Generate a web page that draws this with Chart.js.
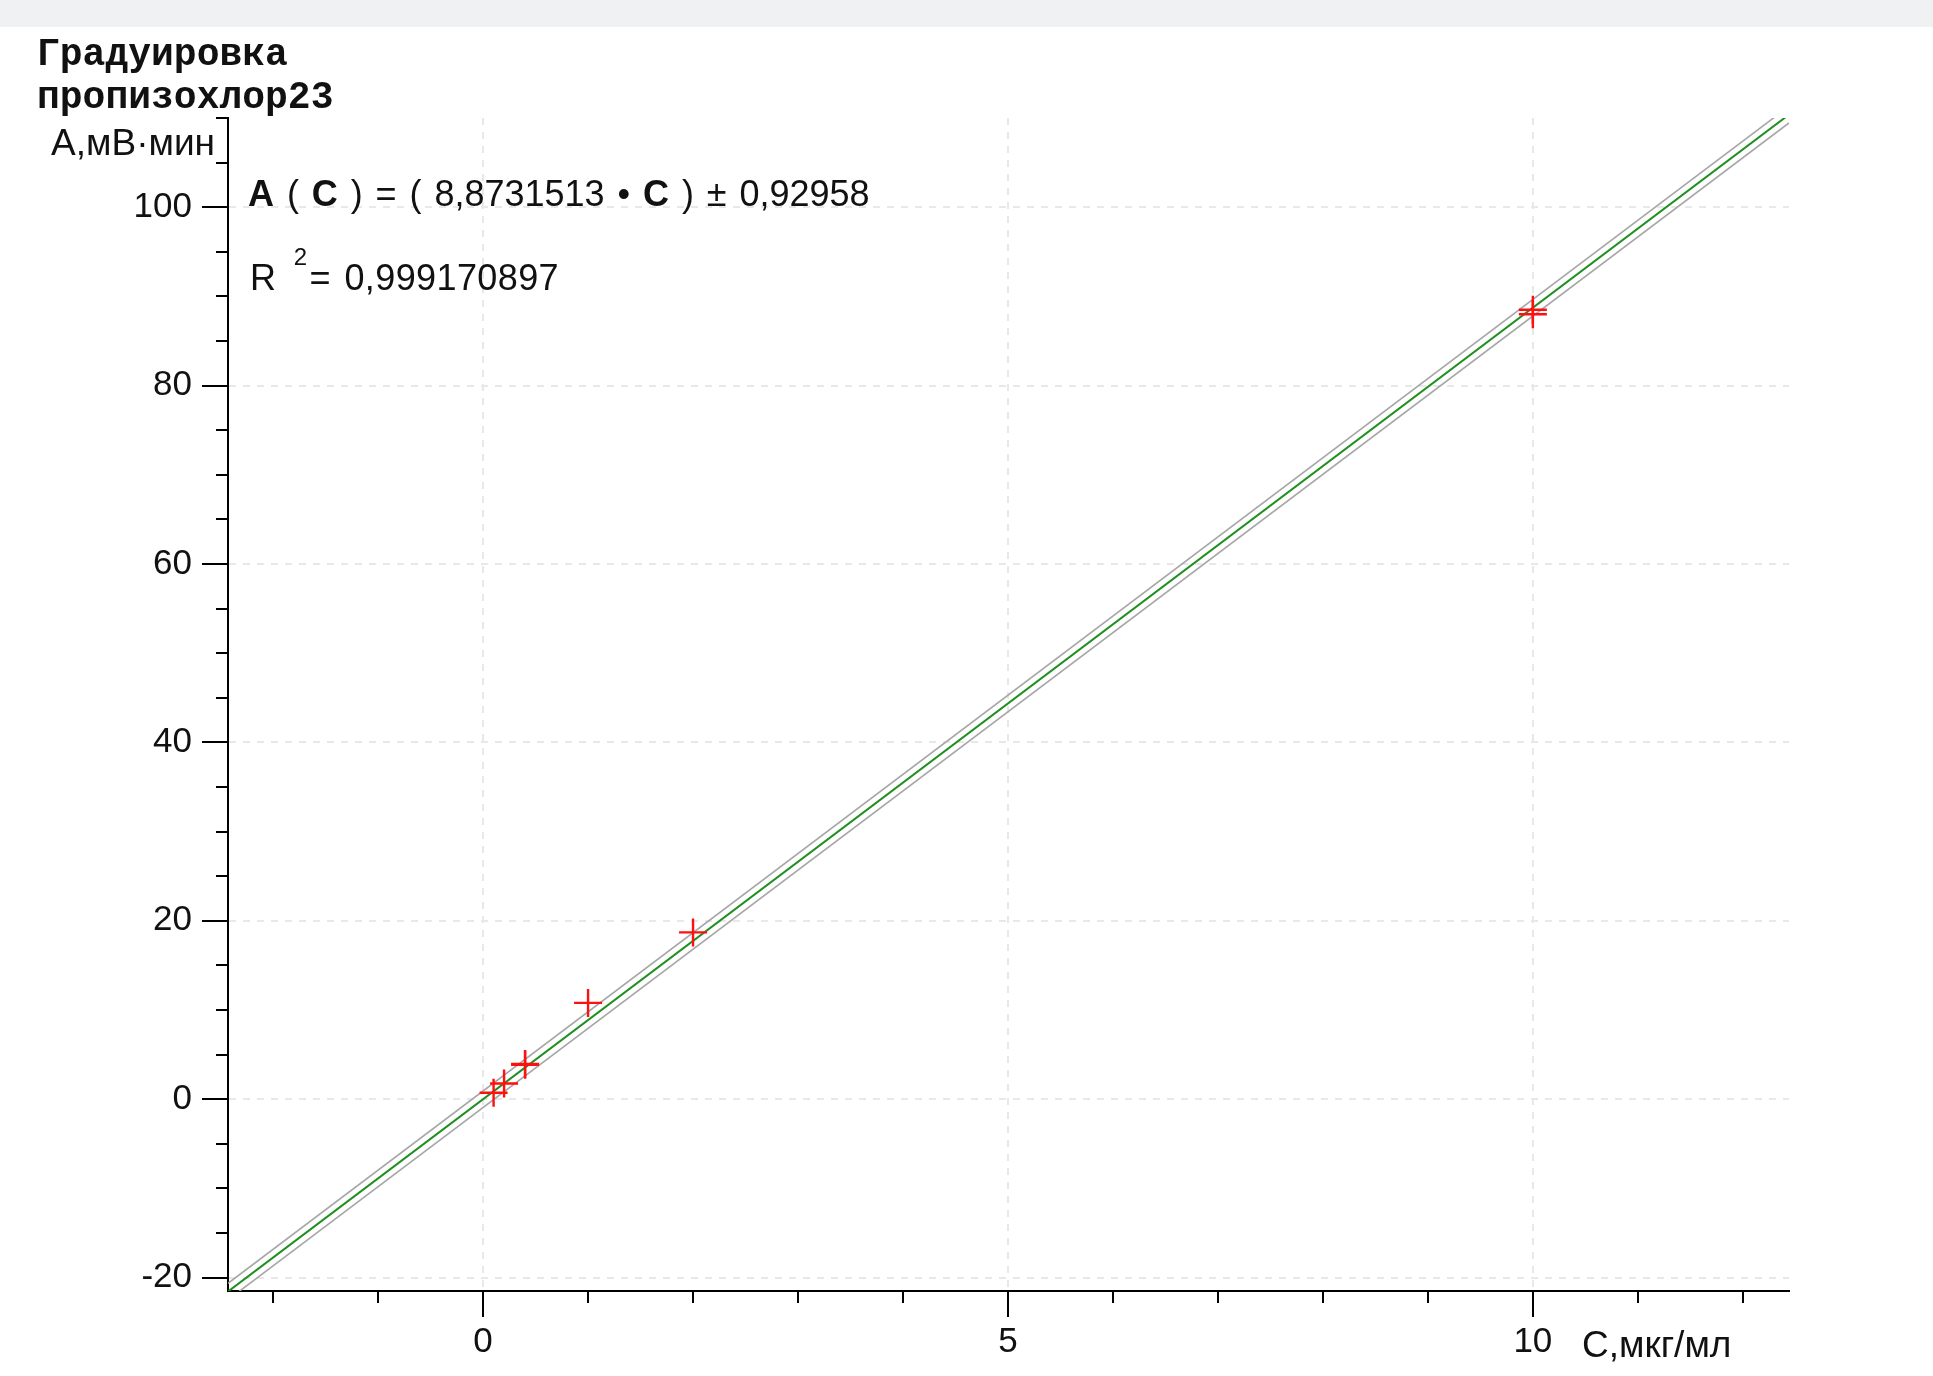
<!DOCTYPE html>
<html>
<head>
<meta charset="utf-8">
<script src="https://cdn.jsdelivr.net/npm/chart.js@4.4.1/dist/chart.umd.min.js"></script>
<style>
  html, body { margin: 0; padding: 0; background: #fff; overflow: hidden; }
  #wrap { position: relative; width: 1933px; height: 1376px; }
  #band { position: absolute; left: 0; top: 0; width: 1933px; height: 27px; background: #f0f1f3; }
  canvas { position: absolute; left: 0; top: 0; }
  .lbl { position: absolute; white-space: pre; font-family: 'Liberation Sans', Arial, sans-serif; color: #111; line-height: normal; }
  .ttl { position: absolute; white-space: pre; font-family: 'Liberation Mono', 'Courier New', monospace; font-weight: bold; font-size: 38px; color: #111; line-height: normal; }
  .eq { word-spacing: 2.9px; }
  .r2 { word-spacing: 3px; letter-spacing: 0.4px; }
  b { font-weight: bold; }
  .sup { position: relative; top: -25px; font-size: 24px; margin-left: 4px; margin-right: 2px; }
</style>
</head>
<body>
<div id="wrap">
  <div id="band"></div>
  <canvas id="chart" width="1933" height="1376"></canvas>
  <div class="ttl" style="left:37px; top:33px;">Градуировка</div>
  <div class="ttl" style="left:37px; top:76px;">пропизохлор23</div>
  <div class="lbl" style="right:1718px; top:122px; font-size:37px;">А,мВ·мин</div>
  <div class="lbl" style="left:1582px; top:1324px; font-size:37px;">С,мкг/мл</div>
  <div class="lbl eq" style="left:248px; top:173px; font-size:36px;"><b>А</b> ( <b>С</b> ) = ( 8,8731513 • <b>С</b> ) ± 0,92958</div>
  <div class="lbl r2" style="left:250px; top:257px; font-size:36px;">R <span class="sup">2</span>= 0,999170897</div>
</div>
<script>
// calibration points (concentration, peak area)
const concentrations = [0.1, 0.2, 0.4, 0.4, 1, 2, 10, 10];
const areas = [0.72, 1.76, 3.85, 3.95, 10.8, 18.7, 88.5, 88.0];

// fit from the equation in the picture: A(C) = 8,8731513*C ± 0,92958
const fitSlope = 8.8731513;
const fitBand = 0.92958;

const xMajorTicks = [0, 5, 10];
const xMinorTicks = [-2, -1, 1, 2, 3, 4, 6, 7, 8, 9, 11, 12];
const yMajorTicks = [-20, 0, 20, 40, 60, 80, 100];
const yMinorTicks = [-15, -10, -5, 5, 10, 15, 25, 30, 35, 45, 50, 55, 65, 70, 75, 85, 90, 95, 105, 110];

const xMin = -2.43, xMax = 12.44;
const yMin = -21.5, yMax = 110;

const FONT = 'Liberation Sans';

function fitLine(offset) {
  return [xMin, xMax].map(x => ({ x, y: fitSlope * x + offset }));
}

const minorTicks = {
  id: 'minorTicks',
  afterDraw(chart) {
    const { ctx, chartArea, scales: { x, y } } = chart;
    ctx.save();
    ctx.strokeStyle = '#000';
    ctx.lineWidth = 2;
    ctx.beginPath();
    xMinorTicks.forEach(v => {
      const px = Math.round(x.getPixelForValue(v));
      ctx.moveTo(px, chartArea.bottom);
      ctx.lineTo(px, chartArea.bottom + 12);
    });
    yMinorTicks.forEach(v => {
      const py = Math.round(y.getPixelForValue(v));
      ctx.moveTo(chartArea.left - 12, py);
      ctx.lineTo(chartArea.left, py);
    });
    ctx.stroke();
    ctx.restore();
  }
};

function axisOpts(major, extra) {
  return Object.assign({
    type: 'linear',
    afterBuildTicks: (s) => { s.ticks = major.map(v => ({ value: v })); },
    ticks: { color: '#111', font: { family: FONT, size: 35 }, autoSkip: false, maxRotation: 0 },
    grid: { color: '#e8e8e8', lineWidth: 2, tickLength: 26, tickWidth: 2, tickColor: '#000' },
    border: { display: true, color: '#000', width: 2, dash: [7, 7] },
  }, extra);
}

const xScale = axisOpts(xMajorTicks, { min: xMin, max: xMax, afterFit: (s) => { s.height = 85; } });
xScale.ticks.padding = 4;
const yScale = axisOpts(yMajorTicks, { min: yMin, max: yMax, afterFit: (s) => { s.width = 228; } });
yScale.ticks.padding = 10;

new Chart(document.getElementById('chart').getContext('2d'), {
  type: 'scatter',
  data: {
    datasets: [
      {
        data: concentrations.map((c, i) => ({ x: c, y: areas[i] })),
        pointStyle: 'cross', pointRadius: 14, pointBorderWidth: 2.4,
        pointBorderColor: '#ff1010', pointBackgroundColor: '#ff1010',
        showLine: false, order: 0,
      },
      { data: fitLine(0), showLine: true, borderColor: '#1f8f1f', borderWidth: 2, pointRadius: 0, order: 1 },
      { data: fitLine(fitBand), showLine: true, borderColor: '#a6a6a6', borderWidth: 1.6, pointRadius: 0, order: 2 },
      { data: fitLine(-fitBand), showLine: true, borderColor: '#a6a6a6', borderWidth: 1.6, pointRadius: 0, order: 2 },
    ],
  },
  options: {
    responsive: false,
    animation: false,
    layout: { padding: { top: 118, right: 144, left: 0, bottom: 0 } },
    plugins: { legend: { display: false }, tooltip: { enabled: false }, title: { display: false } },
    scales: { x: xScale, y: yScale },
  },
  plugins: [minorTicks],
});
</script>
</body>
</html>
